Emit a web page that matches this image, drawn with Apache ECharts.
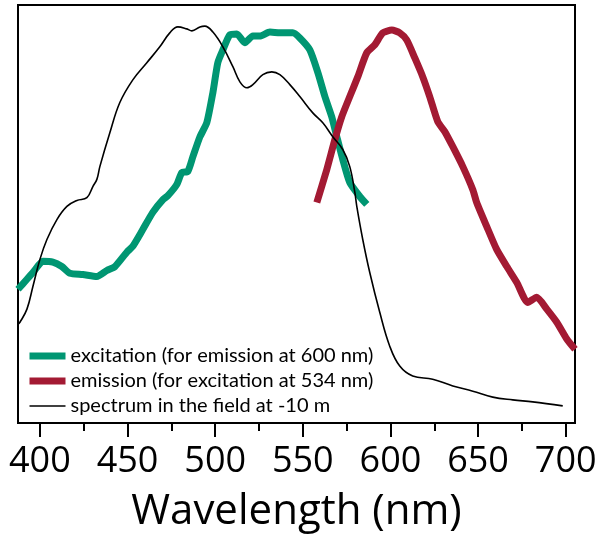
<!DOCTYPE html>
<html>
<head>
<meta charset="utf-8">
<script src="https://cdn.jsdelivr.net/npm/echarts@6/dist/echarts.min.js"></script>
<style>
html,body{margin:0;padding:0;background:#fff;}
#chart{width:600px;height:540px;}
</style>
</head>
<body>
<div id="chart"></div>
<script>
// Wavelength (nm) and relative intensity for each curve
const excitationNm = [387.5,392.6,396.0,401.7,407.4,412.5,417.1,424.5,432.5,438.2,442.8,449.6,453.0,458.7,464.4,470.2,473.0,478.1,481.0,484.4,487.3,491.3,495.2,498.7,501.5,504.4,508.4,512.4,516.9,521.5,525.5,531.2,536.9,544.3,548.3,554.0,558.6,562.6,566.5,569.4,572.8,576.8,582.5,586.5];
const excitationVal = [0.336,0.361,0.378,0.406,0.404,0.393,0.376,0.373,0.368,0.383,0.393,0.429,0.444,0.486,0.529,0.561,0.571,0.599,0.629,0.632,0.669,0.719,0.754,0.830,0.905,0.937,0.975,0.977,0.955,0.972,0.972,0.982,0.980,0.980,0.967,0.937,0.880,0.820,0.769,0.719,0.662,0.604,0.569,0.549];

const emissionNm = [558.0,563.7,568.3,572.2,576.8,581.4,586.5,591.1,595.6,600.8,605.3,609.3,613.9,618.4,622.4,627.0,631.0,635.6,641.3,647.0,649.2,654.9,660.6,666.4,672.1,678.3,683.5,689.2,694.9,700.6,705.3];
const emissionVal = [0.554,0.637,0.712,0.769,0.820,0.870,0.930,0.950,0.980,0.987,0.980,0.962,0.917,0.870,0.820,0.757,0.732,0.694,0.644,0.586,0.554,0.494,0.436,0.393,0.353,0.303,0.316,0.286,0.253,0.211,0.185];

const fieldNm = [387.5,388.6,392.6,396.0,400.0,404.0,409.7,415.4,421.1,426.8,430.2,432.5,434.2,439.9,445.6,453.0,461.0,468.4,474.1,478.7,483.8,486.7,491.3,494.1,498.7,504.4,510.1,514.1,518.1,521.5,527.2,532.3,536.9,542.6,548.3,555.7,561.4,567.1,572.8,576.8,579.7,580.8,584.2,588.2,593.9,599.6,605.3,612.7,624.1,635.6,647.0,658.4,669.8,681.2,698.3];
const fieldVal = [0.248,0.253,0.286,0.343,0.411,0.461,0.511,0.544,0.559,0.566,0.594,0.612,0.644,0.729,0.805,0.862,0.905,0.945,0.980,0.995,0.990,0.985,0.995,0.997,0.982,0.945,0.895,0.857,0.842,0.850,0.875,0.882,0.875,0.850,0.820,0.779,0.754,0.719,0.687,0.644,0.579,0.544,0.461,0.378,0.278,0.193,0.143,0.118,0.110,0.093,0.080,0.065,0.058,0.053,0.043];

const majorTicks = [400,450,500,550,600,650,700];
const minorTicks = [425,475,525,575,625,675];

const seriesNames = [
  'excitation (for emission at 600 nm)',
  'emission (for excitation at 534 nm)',
  'spectrum in the field at -10 m'
];

const zip = (xs, ys) => xs.map((x, i) => [x, ys[i]]);
const FONT = '"Open Sans", "Noto Sans", sans-serif';
const XMIN = 387.5, XMAX = 705.3;

const chart = echarts.init(document.getElementById('chart'), null, {renderer: 'canvas'});
chart.setOption({
  animation: false,
  backgroundColor: '#fff',
  grid: {left: 18, top: 5, right: 25, bottom: 117, show: true, borderColor: '#000', borderWidth: 2, backgroundColor: 'transparent'},
  legend: {
    orient: 'vertical', left: 26, top: 346, padding: 0,
    itemWidth: 36, itemHeight: 10, itemGap: 5,
    textStyle: {fontFamily: 'Lato, "Open Sans", sans-serif', fontSize: 20, color: '#000', padding: [0,0,0,0]},
    lineStyle: {width: 'inherit'},
    itemStyle: {opacity: 0},
    data: seriesNames
  },
  xAxis: [{
    type: 'value', min: XMIN, max: XMAX, position: 'bottom',
    name: 'Wavelength (nm)', nameLocation: 'middle', nameGap: 68,
    nameTextStyle: {fontFamily: FONT, fontSize: 42, color: '#000'},
    axisLine: {show: true, onZero: false, lineStyle: {color: '#000', width: 2}},
    axisTick: {show: true, length: 14, lineStyle: {color: '#000', width: 2}, customValues: majorTicks},
    axisLabel: {fontFamily: FONT, fontSize: 36, color: '#000', margin: 21, customValues: majorTicks},
    splitLine: {show: false}
  }, {
    type: 'value', min: XMIN, max: XMAX, position: 'bottom',
    axisLine: {show: false},
    axisTick: {show: true, length: 8, lineStyle: {color: '#000', width: 2}, customValues: minorTicks},
    axisLabel: {show: false},
    splitLine: {show: false}
  }],
  yAxis: {
    type: 'value', min: 0, max: 1.05, show: false, splitLine: {show: false}
  },
  series: [{
    name: seriesNames[0], type: 'line', data: zip(excitationNm, excitationVal),
    symbol: 'none', smooth: 0.2, color: '#009672',
    lineStyle: {color: '#009672', width: 7, join: 'round'}
  }, {
    name: seriesNames[1], type: 'line', data: zip(emissionNm, emissionVal),
    symbol: 'none', smooth: 0.2, color: '#a31a33',
    lineStyle: {color: '#a31a33', width: 7, join: 'round'}
  }, {
    name: seriesNames[2], type: 'line', data: zip(fieldNm, fieldVal),
    symbol: 'none', smooth: 0.4, color: '#000',
    lineStyle: {color: '#000', width: 1.6}
  }]
});
</script>
</body>
</html>
